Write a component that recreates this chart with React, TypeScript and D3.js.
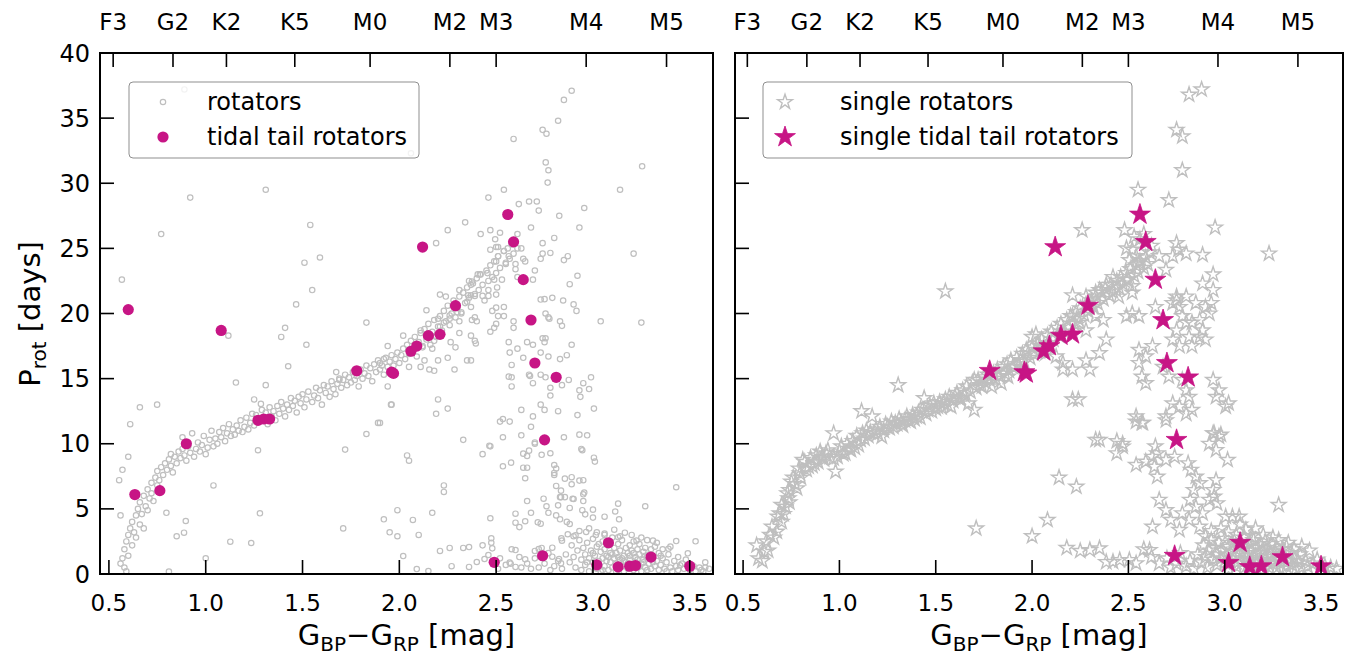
import React from "react";
import * as d3 from "d3";

type P = [number, number];

// ---------- tick / label data ----------
const xTicks = [0.5, 1.0, 1.5, 2.0, 2.5, 3.0, 3.5];
const yTicks = [0, 5, 10, 15, 20, 25, 30, 35, 40];
const spTypes = ["F3", "G2", "K2", "K5", "M0", "M2", "M3", "M4", "M5"];
const spColors = [0.522, 0.831, 1.107, 1.46, 1.849, 2.261, 2.5, 2.965, 3.38];

// ---------- left panel: all rotators ----------
const leftBand: P[] = [
  [0.56,0.8],[0.57,1.2],[0.58,0.5],[0.58,1.9],[0.59,2.5],[0.60,1.4],[0.60,3.0],[0.61,3.5],[0.62,2.2],[0.62,4.0],[0.63,3.2],[0.64,4.5],[0.64,2.8],[0.65,5.0],[0.66,3.8],[0.66,5.5],[0.67,4.6],[0.68,6.0],[0.68,3.5],[0.69,5.2],[0.70,6.5],[0.70,4.9],[0.71,5.8],[0.72,7.0],[0.72,6.2],[0.73,5.6],[0.74,7.4],[0.75,6.8],[0.75,7.9],[0.76,7.2],[0.77,8.2],[0.78,7.6],[0.79,8.5],[0.80,8.0],[0.81,8.8],[0.82,8.3],[0.82,9.2],[0.83,7.8],[0.84,9.0],[0.85,8.5],[0.86,9.4],[0.87,8.9],[0.88,9.6],[0.88,10.5],[0.89,9.1],[0.90,8.7],[0.91,9.8],[0.92,9.3],[0.93,10.8],[0.94,9.0],[0.95,9.6],[0.96,10.1],[0.97,9.4],[0.98,9.9],[0.99,10.6],[1.00,9.2],[1.01,9.7],[1.02,10.3],[1.03,11.0],[1.04,9.8],[1.05,10.4],[1.06,10.0],[1.07,10.9],[1.08,10.5],[1.09,11.2],[1.10,10.2],[1.11,10.8],[1.12,11.5],[1.13,10.6],[1.14,11.1],[1.15,10.7],[1.16,11.4],[1.17,11.0],[1.18,11.8],[1.19,10.9],[1.20,11.3],[1.21,12.0],[1.22,11.1],[1.23,11.6],[1.24,12.3],[1.25,11.4],[1.26,12.2],[1.28,11.7],[1.29,12.6],[1.30,11.9],[1.31,12.4],[1.32,11.5],[1.33,12.8],[1.34,12.1],[1.35,12.5],[1.36,11.8],[1.37,12.9],[1.38,12.3],[1.39,13.2],[1.40,12.7],[1.41,12.1],[1.42,13.0],[1.43,12.6],[1.44,13.5],[1.45,12.9],[1.46,13.3],[1.47,12.4],[1.48,13.6],[1.49,13.1],[1.50,13.8],[1.51,12.8],[1.52,13.4],[1.53,14.0],[1.55,13.2],[1.56,13.7],[1.57,14.3],[1.58,13.5],[1.59,14.1],[1.60,13.0],[1.61,14.5],[1.62,13.9],[1.63,14.4],[1.64,13.6],[1.65,14.8],[1.66,14.2],[1.67,13.8],[1.68,14.6],[1.69,15.0],[1.70,14.3],[1.71,14.9],[1.72,15.3],[1.73,14.5],[1.74,15.1],[1.75,14.7],[1.76,15.5],[1.77,14.9],[1.78,15.2],[1.79,14.4],[1.80,15.7],[1.81,15.0],[1.82,15.4],[1.83,16.0],[1.84,15.2],[1.85,15.8],[1.86,14.8],[1.87,16.1],[1.88,15.5],[1.89,16.4],[1.90,15.7],[1.91,16.0],[1.92,15.3],[1.93,16.6],[1.94,15.9],[1.95,16.3],[1.96,16.8],[1.97,16.0],[1.98,16.5],[1.99,17.0],[2.00,16.2],[2.01,16.8],[2.02,17.3],[2.03,16.5],[2.04,17.6],[2.05,16.9],[2.06,17.9],[2.07,17.2],[2.08,18.2],[2.09,16.7],[2.10,17.8],[2.11,18.5],[2.12,17.5],[2.13,18.8],[2.14,18.0],[2.15,19.2],[2.16,17.6],[2.17,18.6],[2.18,19.5],[2.19,18.2],[2.20,19.0],[2.21,19.8],[2.22,18.7],[2.23,20.2],[2.24,19.4],[2.25,20.6],[2.26,19.1],[2.27,20.0],[2.28,21.0],[2.29,19.7],[2.30,20.4],[2.31,21.3],[2.32,20.1],[2.33,21.6],[2.34,20.8],[2.35,22.0],[2.36,21.2],[2.37,20.5],[2.38,22.3],[2.39,21.5],[2.40,22.7],[2.41,21.8],[2.42,23.0],[2.43,22.2],[2.44,21.0],[2.45,23.3],[2.46,22.5],[2.47,23.7],[2.48,22.8],[2.49,24.0],[2.50,23.1],[2.51,24.4],[2.52,23.5],[2.53,22.6],[2.54,24.8],[2.55,23.9],[2.56,25.0],[2.57,24.2],[2.58,25.3],[2.59,24.6],[2.60,23.8],
];

const leftBranch: P[] = [
  [2.756,31.6],[2.77,31.0],[2.766,30.05],[3.254,31.3],[3.14,29.5],[2.54,29.5],[2.46,28.9],[2.67,28.6],[2.71,28.6],[2.617,28.4],[2.955,28.1],[2.72,27.9],[2.826,27.5],[2.34,27.0],[2.68,26.6],[2.93,26.6],[2.25,26.4],[2.42,26.1],[2.47,26.4],[2.52,26.2],[2.61,26.1],[2.80,25.8],[2.495,25.7],[2.19,25.4],[2.74,25.4],[2.78,24.65],[2.74,24.6],[2.63,25.0],[2.61,25.0],[2.47,24.9],[2.50,25.1],[2.51,25.1],[2.54,24.8],[2.51,24.4],[2.50,24.0],[2.55,23.8],[2.565,24.4],[2.64,24.2],[2.65,24.0],[2.73,24.2],[2.85,24.1],[2.87,24.4],[3.21,24.6],[2.60,23.4],[2.70,23.3],[2.92,22.9],[2.61,22.8],[2.69,22.6],[2.88,22.25],[2.405,23.0],[2.416,23.0],[2.455,23.1],[2.49,22.6],[2.36,22.5],[2.375,22.45],[2.37,22.2],[2.31,21.8],[2.21,21.45],[2.24,21.3],[2.355,21.4],[2.37,21.4],[2.39,21.35],[2.43,21.35],[2.46,21.35],[2.50,21.45],[2.46,21.8],[2.505,22.0],[2.73,21.07],[2.75,21.1],[2.79,21.2],[2.846,21.0],[2.90,20.7],[2.915,20.2],[3.04,19.4],[3.25,19.3],[2.14,20.25],[2.35,20.9],[2.30,20.1],[2.32,20.0],[2.48,20.2],[2.50,20.45],[2.54,20.5],[2.51,19.8],[2.54,19.8],[2.39,19.7],[2.40,19.4],[2.375,19.5],[2.26,19.85],[2.26,19.6],[2.31,19.4],[2.23,19.3],[2.20,19.6],[2.21,19.0],[2.59,19.4],[2.59,18.9],[2.755,20.0],[2.77,19.7],[2.775,19.6],[2.83,19.4],[2.84,19.05],[2.47,18.6],[2.49,18.9],[2.50,19.2],[2.37,18.3],[2.39,17.9],[2.395,17.7],[2.31,18.5],[2.29,17.4],[2.265,17.8],[2.20,18.4],[2.18,17.9],[2.17,17.3],[2.12,17.4],[2.11,18.7],[2.02,18.3],[1.90,16.2],[2.11,15.9],[2.155,15.7],[2.18,15.6],[2.13,16.4],[2.05,15.9],[2.20,16.4],[2.25,16.6],[2.35,16.4],[2.37,16.4],[2.285,15.7],[2.565,17.8],[2.57,17.0],[2.61,17.3],[2.64,16.6],[2.73,17.0],[2.77,16.7],[2.83,16.5],[2.865,16.8],[2.89,17.6],[2.66,17.8],[2.69,17.6],[2.74,18.1],[2.75,17.8],[2.755,18.1],[2.58,16.05],[2.67,15.3],[2.675,15.2],[2.73,15.3],[2.755,15.1],[2.565,15.15],[2.58,15.1],[2.58,14.4],[2.69,14.65],[2.78,14.3],[2.78,13.7],[2.84,14.5],[2.875,14.9],[2.93,14.1],[2.935,13.6],[2.95,14.65],[2.98,14.2],[2.99,15.1],[3.005,12.7],[2.20,13.4],[2.25,12.7],[2.19,12.3],[1.96,13.0],[1.90,11.6],[2.52,11.7],[2.535,11.9],[2.57,11.7],[2.63,12.6],[2.69,12.1],[2.75,12.6],[2.73,13.0],[2.82,12.5],[2.92,12.2],[2.33,10.3],[2.465,9.85],[2.535,10.5],[2.63,10.65],[2.68,11.3],[2.70,10.1],[2.85,10.5],[2.93,10.7],[2.97,10.65],[2.94,9.6],
  [2.47,9.8],[2.43,9.2],[2.70,10.0],[2.735,9.15],[2.78,9.27],[2.64,9.24],[2.67,9.47],[2.66,9.06],[2.945,9.5],[3.005,8.93],[3.01,8.63],[2.577,8.55],[2.535,8.27],[2.64,8.16],[2.66,8.16],[2.65,7.35],[2.80,8.37],[2.81,8.1],[2.80,7.76],[2.80,7.6],[2.855,7.32],[2.89,7.43],[2.89,6.89],[2.93,7.17],[2.95,7.2],[2.95,6.12],[2.955,6.25],[2.895,5.78],[2.90,5.76],[2.835,5.9],[2.81,6.76],[2.835,6.4],[2.83,5.9],[2.855,5.9],[2.88,5.07],[2.95,5.6],[2.945,4.9],[2.96,4.58],[3.0,4.94],[3.0,4.33],[3.06,4.4],[3.115,4.8],[3.13,5.4],[3.135,4.2],[3.27,5.2],[3.43,6.66],[2.66,5.6],[2.745,5.78],[2.76,5.2],[2.77,4.7],[2.68,4.7],[2.82,5.27],[2.81,4.5],[2.83,4.2],[2.865,4.0],[2.88,3.84],[2.65,4.05],[2.60,4.63],[2.60,3.94],[2.62,3.6],[2.715,3.97],[2.73,3.86],[2.47,4.28],[2.475,2.74],[2.475,2.4],[2.48,1.97],[2.44,1.15],[2.60,1.84],[2.57,0.87],[2.575,0.79],[2.60,0.54],[2.65,1.13],[2.70,1.77],[2.72,1.92],[2.735,2.0],[2.79,2.02],[2.79,1.33],[2.825,1.15],[2.835,0.82],[2.837,2.74],[2.84,2.56],[2.87,3.05],[2.91,2.97],[2.965,3.23],[3.015,3.0],[3.06,3.1],[3.13,2.82],[3.165,3.17],[3.225,2.56],[3.31,2.56],[3.39,1.94],[3.43,2.53],[3.45,0.67],[3.53,2.51],[3.49,1.59],[3.56,0.31],
];

const leftCluster: P[] = [
  [2.86,1.5],[2.88,0.9],[2.89,2.2],[2.90,1.3],[2.91,0.5],[2.92,1.8],[2.93,2.6],[2.94,1.1],[2.94,0.3],[2.95,2.0],[2.96,1.5],[2.96,0.7],[2.97,2.4],[2.98,1.2],[2.98,0.2],[2.99,1.8],[3.00,0.9],[3.00,2.7],[3.01,1.4],[3.02,0.4],[3.02,2.1],[3.03,1.0],[3.04,1.7],[3.04,0.2],[3.05,2.5],[3.05,1.2],[3.06,0.6],[3.06,1.9],[3.07,1.4],[3.08,0.3],[3.08,2.2],[3.09,0.9],[3.09,1.6],[3.10,2.8],[3.10,0.5],[3.11,1.2],[3.11,2.0],[3.12,0.8],[3.12,1.6],[3.13,0.3],[3.13,2.3],[3.14,1.1],[3.14,1.8],[3.15,0.6],[3.15,2.6],[3.16,1.4],[3.16,0.2],[3.17,2.0],[3.17,0.9],[3.18,1.6],[3.18,0.4],[3.19,2.2],[3.19,1.1],[3.20,0.7],[3.20,1.8],[3.21,0.3],[3.21,2.5],[3.22,1.3],[3.22,0.9],[3.23,1.9],[3.23,0.5],[3.24,1.5],[3.24,2.3],[3.25,0.8],[3.25,0.2],[3.26,1.7],[3.26,1.1],[3.27,0.5],[3.27,2.0],[3.28,1.3],[3.28,0.3],[3.29,0.8],[3.30,1.9],[3.30,0.4],[3.31,1.2],[3.32,0.6],[3.32,2.1],[3.33,1.0],[3.34,0.3],[3.34,1.6],[3.35,0.7],[3.36,1.2],[3.37,0.4],[3.38,0.9],[3.39,1.5],[3.40,0.5],[3.41,0.2],[3.42,1.0],[3.43,0.6],[3.44,0.3],[3.46,0.8],[3.47,0.4],[3.48,1.1],[3.50,0.3],[3.52,0.6],[3.53,0.2],[3.55,0.5],[3.57,0.2],[3.58,0.9],[3.60,0.4],[2.84,0.4],[2.82,1.0],[2.80,0.6],[2.78,0.3],[2.77,1.6],[2.75,0.8],[2.72,0.5],[2.70,1.2],[2.68,0.4],[2.66,0.8],[2.63,0.5],[2.62,1.3],[2.58,1.9],[2.55,0.7],[2.52,1.2],[2.51,0.4],[3.00,1.6],[3.03,2.3],[3.07,1.0],[3.10,1.5],[3.13,1.3],[3.16,1.0],[3.19,1.4],[3.23,1.1],[3.26,0.9],[3.29,1.5],[3.02,3.2],[3.06,3.0],[3.11,3.4],[2.98,3.5],[3.14,2.9],[3.20,3.0],[3.25,2.8],[2.93,3.3],[2.90,2.9],[3.28,2.6],[3.33,2.4],[3.36,1.9],[3.40,2.1],[2.97,0.9],[3.01,0.5],[3.05,0.3],[3.08,1.3],[3.12,0.2],[3.15,1.2],[3.18,0.8],[3.21,1.6],[3.24,0.6],[3.27,1.4],[3.31,0.9],[3.35,1.4],[3.38,0.2],[3.44,1.3],[3.58,0.5],
];

const leftScatter: P[] = [
  [0.567,22.6],[0.553,7.2],[0.60,9.0],[0.749,13.0],[0.77,26.1],[0.92,28.9],[1.31,29.5],[0.81,0.18],[1.0,1.2],[1.04,6.8],[0.797,4.7],[0.897,4.07],[0.85,2.9],[0.888,3.17],[1.127,2.48],[1.235,2.38],[1.28,4.66],[1.27,9.5],[1.117,18.3],[1.156,14.7],[1.31,14.5],[1.25,13.4],[1.285,13.06],[1.467,20.7],[1.41,18.9],[1.39,18.2],[1.52,17.6],[1.426,15.95],[1.674,15.5],[1.69,14.9],[1.83,19.3],[1.94,17.5],[1.92,16.5],[1.72,9.55],[1.89,11.6],[1.957,13.0],[1.94,14.4],[1.99,4.9],[1.92,4.2],[1.95,3.2],[1.99,2.9],[1.71,3.5],[1.51,23.9],[1.54,26.8],[1.59,24.3],[1.55,21.8],[2.06,32.3],[0.89,37.2],[1.83,10.75],[2.04,9.1],[2.05,8.7],[2.07,4.15],[2.10,3.0],[2.17,4.7],[2.23,6.8],[2.23,6.3],[2.21,1.77],[2.26,2.0],[2.33,2.0],[2.36,2.07],[2.43,2.2],[2.46,1.46],[2.40,0.92],[2.36,0.54],[2.27,0.6],[2.02,1.38],[2.15,0.23],[2.09,0.38],[2.59,33.4],[2.74,34.1],[2.76,33.8],[2.82,34.8],[2.85,36.4],[2.89,37.1],[0.57,8.0],[0.61,11.5],[0.66,12.8],[0.56,4.5],[0.59,0.2],
];

const leftTT: P[] = [
  [0.60,20.3],[0.634,6.1],[0.763,6.4],[0.90,10.0],[1.08,18.7],[1.27,11.8],[1.30,11.9],[1.33,11.9],[1.78,15.6],[1.96,15.5],[1.97,15.4],[2.06,17.1],[2.09,17.5],[2.12,25.1],[2.15,18.3],[2.21,18.4],[2.29,20.6],[2.56,27.6],[2.59,25.5],[2.64,22.6],[2.68,19.5],[2.70,16.2],[2.75,10.3],[2.81,15.1],[2.74,1.4],[2.49,0.9],[3.02,0.7],[3.08,2.4],[3.13,0.55],[3.19,0.6],[3.22,0.65],[3.30,1.3],[3.50,0.6],
];

// ---------- right panel: single rotators ----------
const rightBand: P[] = [
  [0.58,1.2],[0.61,1.7],[0.57,2.2],[0.64,3.0],[0.675,3.25],[0.65,3.63],[0.70,4.0],[0.69,4.66],[0.72,5.17],[0.735,5.81],[0.74,6.45],[0.75,7.09],[0.78,6.58],[0.795,7.73],[0.81,8.76],[0.84,8.24],[0.87,8.5],[0.91,9.0],[0.93,9.27],[0.97,8.88],[0.98,7.86],[0.97,10.8],[0.99,9.0],[1.03,9.27],[1.06,9.52],[1.10,9.9],[1.115,12.5],[1.17,12.1],[1.18,10.8],[1.22,10.55],[1.25,11.3],[1.29,11.6],[1.32,11.6],[1.36,11.8],[1.40,12.1],[1.44,13.5],[1.46,12.6],[1.51,12.85],[1.54,13.1],[1.58,12.85],[1.60,13.6],[1.63,13.4],[1.67,13.1],[1.70,12.6],[1.70,14.9],[1.74,14.4],[1.79,14.4],[1.84,14.65],[1.875,15.15],[1.91,15.9],[1.94,16.4],[1.98,16.95],[2.00,18.2],
  [0.60,1.0],[0.62,2.5],[0.63,1.8],[0.66,2.8],[0.68,4.4],[0.70,5.3],[0.71,4.6],[0.73,6.2],[0.74,5.5],[0.76,7.4],[0.77,6.9],[0.79,8.1],[0.80,7.4],[0.82,8.6],[0.83,8.0],[0.85,8.9],[0.86,8.3],[0.88,9.1],[0.89,8.6],[0.90,9.4],[0.92,8.8],[0.94,9.5],[0.95,9.0],[1.00,9.4],[1.01,9.8],[1.02,9.2],[1.04,10.0],[1.05,9.6],[1.07,10.2],[1.08,9.7],[1.09,10.6],[1.11,10.3],[1.12,10.8],[1.13,10.4],[1.14,11.0],[1.15,10.6],[1.16,10.9],[1.19,11.1],[1.20,10.8],[1.21,11.3],[1.23,11.0],[1.24,11.5],[1.26,11.2],[1.27,11.7],[1.28,11.3],[1.30,11.5],[1.31,11.9],[1.33,11.4],[1.34,11.8],[1.35,12.1],[1.37,11.7],[1.38,12.2],[1.39,11.9],[1.41,12.4],[1.42,12.0],[1.43,12.6],[1.45,12.3],[1.47,12.9],[1.48,12.5],[1.49,13.1],[1.50,12.7],[1.52,13.2],[1.53,12.8],[1.55,13.4],[1.56,13.0],[1.57,13.6],[1.59,13.3],[1.61,13.9],[1.62,13.5],[1.64,14.1],[1.65,13.7],[1.66,14.4],[1.68,14.0],[1.69,14.7],[1.71,14.3],[1.72,14.9],[1.73,14.5],[1.75,15.1],[1.76,14.7],[1.77,15.3],[1.78,14.9],[1.80,15.4],[1.81,15.0],[1.82,15.7],[1.83,15.2],[1.85,15.9],[1.86,15.4],[1.87,16.1],[1.88,15.6],[1.89,16.4],[1.90,15.9],[1.92,16.6],[1.93,16.1],[1.95,16.9],[1.96,16.3],[1.97,17.2],[1.99,16.6],[2.00,17.4],[2.01,16.9],[2.03,17.7],[2.04,17.1],[2.05,18.0],[2.06,17.4],[2.08,18.3],[2.09,17.7],[2.10,18.6],[2.11,18.0],[2.13,18.9],[2.14,18.3],[2.15,19.2],[2.17,18.6],[2.18,19.5],[2.19,18.9],[2.20,19.8],[2.22,19.2],[2.23,20.1],[2.24,19.6],[2.25,20.4],[2.27,19.9],[2.28,20.7],[2.29,20.2],[2.31,21.0],[2.32,20.5],[2.33,21.3],[2.34,20.8],[2.36,21.6],[2.37,21.1],[2.38,21.9],[2.40,21.4],[2.41,22.2],[2.42,21.7],[2.44,22.5],[2.45,22.0],[2.46,22.8],[2.47,22.3],[2.49,23.1],[2.50,22.6],[2.51,23.4],[2.53,22.9],[2.54,23.7],[2.55,23.2],[2.56,24.0],[2.58,23.5],[2.59,24.3],[2.60,23.8],[2.61,24.7],[2.62,25.2],[2.56,25.7],[2.58,26.1],[2.53,25.9],
];

const rightBranch: P[] = [
  [2.78,31.0],[2.55,29.5],[2.71,28.7],[2.26,26.4],[2.48,26.4],[2.95,26.6],[2.49,25.0],[2.52,24.9],[2.54,24.4],[2.505,24.1],[2.555,23.9],[2.75,25.4],[2.76,24.9],[2.80,24.6],[2.73,24.4],[2.66,24.4],[2.885,24.5],[2.94,23.0],[2.885,22.3],[2.695,23.35],[2.42,22.8],[2.385,22.2],[2.35,21.8],[2.435,21.8],[2.49,22.6],[2.52,22.1],[2.33,21.6],[2.28,21.3],[2.21,21.4],[2.45,21.3],[2.52,21.6],[2.75,21.0],[2.80,21.3],[2.85,20.8],[2.90,20.5],[2.92,20.0],[2.64,20.5],[2.49,19.8],[2.52,20.0],[2.555,19.8],[2.21,19.8],[2.245,19.3],[2.28,18.7],[2.33,19.8],[2.37,19.5],[2.02,18.4],[2.04,17.5],[2.07,16.95],[2.125,16.7],[2.16,16.2],[2.21,15.7],[2.28,16.4],[2.35,16.95],[2.385,18.0],[2.16,15.7],[2.30,15.7],[2.21,13.4],
  [2.75,21.3],[2.73,20.8],[2.765,20.5],[2.78,19.8],[2.80,19.3],[2.75,18.7],[2.73,18.0],[2.765,17.5],[2.815,18.2],[2.83,19.3],[2.87,19.5],[2.885,18.7],[2.87,18.2],[2.83,17.5],[2.90,18.0],[2.93,20.8],[2.94,21.8],[2.555,17.2],[2.59,16.7],[2.555,16.2],[2.57,15.15],[2.59,14.65],[2.625,17.5],[2.68,15.9],[2.71,15.15],[2.78,14.9],[2.80,14.1],[2.815,13.6],[2.83,12.6],[2.80,12.3],[2.765,12.85],[2.73,13.1],[2.695,12.1],[2.94,14.9],[2.97,14.1],[3.005,12.85],[3.02,13.1],[2.955,13.6],[2.94,10.8],[2.97,10.55],[2.92,10.0],[2.54,12.1],[2.57,11.6],[2.33,10.3],[2.47,10.0],[2.64,9.8],
  [2.54,11.7],[2.575,11.6],[2.695,11.8],[2.35,10.3],[2.44,9.27],[2.47,9.78],[2.54,8.37],[2.59,8.63],[2.625,9.0],[2.65,9.27],[2.635,8.24],[2.65,7.47],[2.695,8.76],[2.74,9.0],[2.945,10.8],[2.98,10.7],[2.955,9.52],[3.015,8.76],[2.81,8.5],[2.825,8.0],[2.85,7.47],[2.87,6.97],[2.84,6.45],[2.82,5.7],[2.85,5.17],[2.885,4.66],[2.92,5.7],[2.945,5.94],[2.955,7.2],[2.94,6.45],[2.96,5.43],[3.005,4.4],[3.04,4.4],[3.075,4.4],[2.66,5.7],[2.695,4.9],[2.72,4.15],[2.78,4.66],[2.625,3.63],[2.765,3.38],[2.61,1.84],[2.815,4.15],[2.87,3.63],[3.28,5.3],[2.42,0.94],[2.455,1.07],[2.505,1.07],[2.54,0.82],[2.35,1.97],
];

const rightCluster: P[] = [
  [2.86,1.5],[2.88,0.9],[2.89,2.2],[2.90,1.3],[2.91,0.5],[2.92,1.8],[2.93,2.6],[2.94,1.1],[2.95,2.0],[2.96,1.5],[2.96,0.7],[2.97,2.4],[2.98,1.2],[2.99,1.8],[3.00,0.9],[3.00,2.7],[3.01,1.4],[3.02,0.4],[3.02,2.1],[3.03,1.0],[3.04,1.7],[3.05,2.5],[3.05,1.2],[3.06,0.6],[3.06,1.9],[3.07,1.4],[3.08,2.2],[3.09,0.9],[3.09,1.6],[3.10,2.8],[3.10,0.5],[3.11,1.2],[3.11,2.0],[3.12,0.8],[3.12,1.6],[3.13,2.3],[3.14,1.1],[3.14,1.8],[3.15,0.6],[3.15,2.6],[3.16,1.4],[3.17,2.0],[3.17,0.9],[3.18,1.6],[3.18,0.4],[3.19,2.2],[3.19,1.1],[3.20,0.7],[3.20,1.8],[3.21,2.5],[3.22,1.3],[3.22,0.9],[3.23,1.9],[3.23,0.5],[3.24,1.5],[3.24,2.3],[3.25,0.8],[3.26,1.7],[3.26,1.1],[3.27,0.5],[3.27,2.0],[3.28,1.3],[3.29,0.8],[3.30,1.9],[3.30,0.4],[3.31,1.2],[3.32,0.6],[3.32,2.1],[3.33,1.0],[3.34,1.6],[3.35,0.7],[3.36,1.2],[3.37,0.4],[3.38,0.9],[3.39,1.5],[3.40,0.5],[3.42,1.0],[3.43,0.6],[3.44,1.8],[3.46,0.8],[3.48,1.1],[3.50,0.3],[3.52,0.6],[3.55,0.5],[3.58,0.4],[2.84,0.4],[2.82,1.0],[2.80,0.6],[2.77,1.6],[2.75,0.8],[2.72,0.5],[2.70,1.2],[2.66,0.8],[2.62,1.3],[2.58,1.9],[3.02,3.2],[3.06,3.0],[3.11,3.4],[2.98,3.5],[3.14,2.9],[3.20,3.0],[3.25,2.8],[2.93,3.3],[2.90,2.9],[3.28,2.6],[3.33,2.4],[3.36,1.9],[3.40,2.1],[3.08,3.8],[3.16,3.5],
];

const rightScatter: P[] = [
  [1.55,21.7],[1.305,14.5],[1.71,3.5],[2.0,2.9],[2.08,4.15],[2.14,7.4],[2.23,6.7],[2.18,2.0],[2.25,1.77],[2.30,1.84],[2.385,0.92],[2.24,13.4],[2.44,10.2],[2.815,36.8],[2.88,37.2],[2.75,34.1],[2.78,33.6],[3.23,24.6],
];

const rightTT: P[] = [
  [1.78,15.6],[1.96,15.5],[1.97,15.4],[2.06,17.1],[2.09,17.5],[2.12,25.1],[2.15,18.3],[2.21,18.4],[2.29,20.6],[2.56,27.6],[2.59,25.5],[2.64,22.6],[2.68,19.5],[2.70,16.2],[2.75,10.3],[2.81,15.1],[2.74,1.4],[3.02,0.85],[3.08,2.4],[3.13,0.55],[3.19,0.6],[3.30,1.3],[3.50,0.6],
];

const leftGray: P[] = [...leftBand, ...leftBranch, ...leftCluster, ...leftScatter];
const rightGray: P[] = [...rightBand, ...rightBranch, ...rightCluster, ...rightScatter];

// ---------- styles ----------
const GRAY = "#bfbfbf";
const MAG = "#c71585";
const FONT = "DejaVu Sans, sans-serif";

function starPath(cx: number, cy: number, R: number): string {
  const r = R * 0.381966;
  const pts: string[] = [];
  for (let k = 0; k < 10; k++) {
    const a = -Math.PI / 2 + (k * Math.PI) / 5;
    const rr = k % 2 === 0 ? R : r;
    pts.push(`${(cx + rr * Math.cos(a)).toFixed(2)},${(cy + rr * Math.sin(a)).toFixed(2)}`);
  }
  return "M" + pts.join("L") + "Z";
}

const TOP = 53;
const BOTTOM = 574;
const yScale = d3.scaleLinear().domain([0, 40]).range([BOTTOM, TOP]);

type PanelProps = {
  x0: number;
  x1: number;
  domain: [number, number];
  star: boolean;
  gray: P[];
  tt: P[];
  showY: boolean;
  legend: { x: number; w: number; labels: [string, string]; markX: number; textX: number };
};

function XLabel({ cx, y }: { cx: number; y: number }) {
  return (
    <text x={cx} y={y} textAnchor="middle" fontFamily={FONT} fontSize={29}>
      G<tspan fontSize={20} dy={6}>BP</tspan>
      <tspan dy={-6}>−G</tspan>
      <tspan fontSize={20} dy={6}>RP</tspan>
      <tspan dy={-6}> [mag]</tspan>
    </text>
  );
}

function Panel({ x0, x1, domain, star, gray, tt, showY, legend }: PanelProps) {
  const xs = d3.scaleLinear().domain(domain).range([x0, x1]);
  const clipId = star ? "clipR" : "clipL";
  const tickLen = 14;
  return (
    <g>
      <defs>
        <clipPath id={clipId}>
          <rect x={x0} y={TOP} width={x1 - x0} height={BOTTOM - TOP} />
        </clipPath>
      </defs>
      <g clipPath={`url(#${clipId})`}>
        {gray.map((d, i) =>
          star ? (
            <path key={i} d={starPath(xs(d[0]), yScale(d[1]), 7.8)} fill="none" stroke={GRAY} strokeWidth={1.4} strokeLinejoin="miter" />
          ) : (
            <circle key={i} cx={xs(d[0])} cy={yScale(d[1])} r={2.7} fill="none" stroke={GRAY} strokeWidth={1.2} />
          )
        )}
        {tt.map((d, i) =>
          star ? (
            <path key={"t" + i} d={starPath(xs(d[0]), yScale(d[1]), 11)} fill={MAG} stroke={MAG} strokeWidth={0.8} />
          ) : (
            <circle key={"t" + i} cx={xs(d[0])} cy={yScale(d[1])} r={5.6} fill={MAG} />
          )
        )}
      </g>
      {/* legend */}
      <g>
        <rect x={legend.x} y={82} width={legend.w} height={76} rx={4} ry={4} fill="white" fillOpacity={0.8} stroke="#8f8f8f" strokeWidth={1} />
        {star ? (
          <>
            <path d={starPath(legend.markX, 102, 7.8)} fill="none" stroke={GRAY} strokeWidth={1.4} />
            <path d={starPath(legend.markX, 137, 11)} fill={MAG} stroke={MAG} strokeWidth={0.8} />
          </>
        ) : (
          <>
            <circle cx={legend.markX} cy={102} r={2.7} fill="none" stroke={GRAY} strokeWidth={1.2} />
            <circle cx={legend.markX} cy={137} r={5.6} fill={MAG} />
          </>
        )}
        <text x={legend.textX} y={110} fontFamily={FONT} fontSize={24}>{legend.labels[0]}</text>
        <text x={legend.textX} y={145} fontFamily={FONT} fontSize={24}>{legend.labels[1]}</text>
      </g>
      {/* bottom ticks */}
      {xTicks.map((t) => (
        <g key={"bx" + t}>
          <line x1={xs(t)} x2={xs(t)} y1={BOTTOM} y2={BOTTOM - tickLen} stroke="black" strokeWidth={1.6} />
          <text x={xs(t)} y={611} textAnchor="middle" fontFamily={FONT} fontSize={23}>{t.toFixed(1)}</text>
        </g>
      ))}
      {/* top ticks (spectral types) */}
      {spColors.map((c, i) => (
        <g key={"sp" + i}>
          <line x1={xs(c)} x2={xs(c)} y1={TOP} y2={TOP + tickLen} stroke="black" strokeWidth={1.6} />
          <text x={xs(c)} y={30} textAnchor="middle" fontFamily={FONT} fontSize={23}>{spTypes[i]}</text>
        </g>
      ))}
      {/* left ticks */}
      {yTicks.map((t) => (
        <g key={"y" + t}>
          <line x1={x0} x2={x0 + tickLen} y1={yScale(t)} y2={yScale(t)} stroke="black" strokeWidth={1.6} />
          {showY && (
            <text x={90} y={yScale(t) + 8.5} textAnchor="end" fontFamily={FONT} fontSize={24}>{t}</text>
          )}
        </g>
      ))}
      <rect x={x0} y={TOP} width={x1 - x0} height={BOTTOM - TOP} fill="none" stroke="black" strokeWidth={2} />
      <XLabel cx={(x0 + x1) / 2} y={645} />
    </g>
  );
}

export default function App() {
  return (
    <svg width={1357} height={655} style={{ position: "absolute", left: 0, top: 0, background: "white" }}>
      <rect x={0} y={0} width={1357} height={655} fill="white" />
      <Panel
        x0={100}
        x1={713}
        domain={[0.454, 3.62]}
        star={false}
        gray={leftGray}
        tt={leftTT}
        showY={true}
        legend={{ x: 129, w: 290, labels: ["rotators", "tidal tail rotators"], markX: 163, textX: 207 }}
      />
      <Panel
        x0={735}
        x1={1343}
        domain={[0.458, 3.614]}
        star={true}
        gray={rightGray}
        tt={rightTT}
        showY={false}
        legend={{ x: 763, w: 369, labels: ["single rotators", "single tidal tail rotators"], markX: 785, textX: 840 }}
      />
      <text transform="translate(40,314) rotate(-90)" textAnchor="middle" fontFamily={FONT} fontSize={29}>
        P<tspan fontSize={20} dy={6}>rot</tspan>
        <tspan dy={-6}> [days]</tspan>
      </text>
    </svg>
  );
}
